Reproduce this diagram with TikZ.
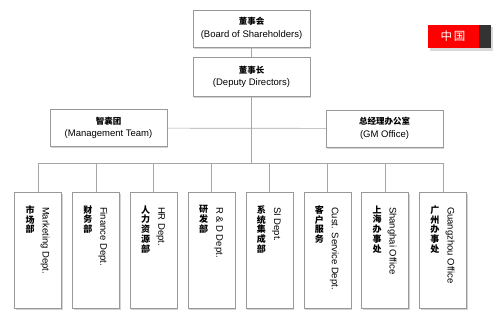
\documentclass[tikz,border=0pt]{standalone}
\usepackage{fontspec}
\setmainfont{Liberation Sans}
\newfontfamily\cjk{Noto Sans CJK SC}
\usetikzlibrary{shadows}

\begin{document}
\begin{tikzpicture}[x=1pt,y=-1pt,
    box/.style={draw=black!40,fill=white,inner sep=0pt,align=center,
      drop shadow={shadow xshift=1.2pt,shadow yshift=-1.5pt,opacity=0.35},
      font=\fontsize{9.5}{12.5}\selectfont},
    head/.style={box,minimum width=117pt,minimum height=37pt},
    dept/.style={box,minimum width=47pt,minimum height=116pt},
    link/.style={draw=black!35,line width=0.7pt},
    entext/.style={rotate=-90,anchor=west,inner sep=0pt,font=\fontsize{9.5}{11}\selectfont},
    zhtext/.style={anchor=north,inner sep=0pt,align=center,font=\cjk\bfseries\fontsize{9}{9.8}\selectfont}]
  \useasboundingbox (0,0) rectangle (500,324);
  % Board and directors
  \node[head] (board) at (251.5,28.5) {{\cjk\bfseries\fontsize{8.5}{10}\selectfont 董事会}\\(Board of Shareholders)};
  \node[head,minimum height=39pt] (deputy) at (251.5,77) {{\cjk\bfseries\fontsize{8.5}{10}\selectfont 董事长}\\(Deputy Directors)};
  \node[head] (mgmt) at (108.5,128) {{\cjk\bfseries\fontsize{8.5}{10}\selectfont 智囊团}\\(Management Team)};
  \node[head] (gm) at (384.5,128.5) {{\cjk\bfseries\fontsize{8.5}{10}\selectfont 总经理办公室}\\(GM Office)};
  \coordinate (bus) at (251.5,163);
  % Departments
  \foreach \i/\en/\zh in {1/Marketing Dept./市\\场\\部,
      2/Finance Dept./财\\务\\部,
      3/HR Dept./人\\力\\资\\源\\部,
      4/R \& D Dept./研\\发\\部,
      5/SI Dept./系\\统\\集\\成\\部,
      6/Cust. Service Dept./客\\户\\服\\务,
      7/Shanghai Office/上\\海\\办\\事\\处,
      8/Guangzhou Office/广\\州\\办\\事\\处} {
    \node[dept] (d\i) at ({38+57.85*(\i-1)},250) {};
    \node[entext] (e\i) at ([xshift=7pt,yshift=-15pt]d\i.north) {\en};
    \node[zhtext] (c\i) at ([xshift=-8pt,yshift=-13.5pt]d\i.north) {\zh};
    \draw[link] (d\i.north) -- (d\i.north |- bus);
  }
  % Connectors
  \draw[link] (board) -- (deputy);
  \draw[link] (deputy) -- (bus);
  \draw[link] (mgmt) -- (gm);
  \draw[link] (d1.north |- bus) -- (d8.north |- bus);
  % Language badge
  \fill[black!25,opacity=0.6] (430,27) rectangle (493,50.5);
  \fill[red] (428,25) rectangle (479,48);
  \fill[black!80] (479,25) rectangle (491,48);
  \node[text=white,font=\cjk\fontsize{11.5}{12}\selectfont] (flag) at (453,36.5) {中\,国};
\end{tikzpicture}
\end{document}
